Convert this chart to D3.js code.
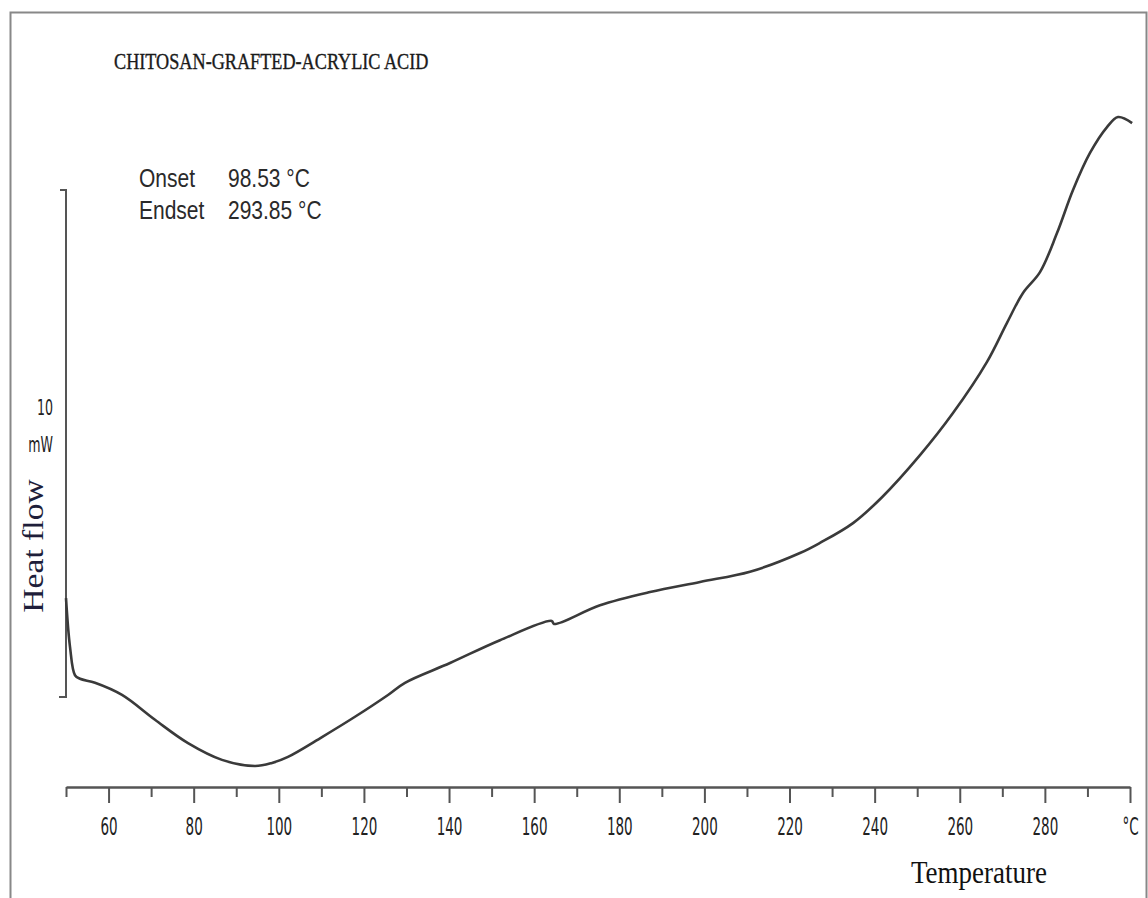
<!DOCTYPE html>
<html>
<head>
<meta charset="utf-8">
<script src="https://cdn.jsdelivr.net/npm/d3@7"></script>
<style>
  body { margin: 0; background: #fff; }
  svg { display: block; }
</style>
</head>
<body>
<script>
// DSC curve: temperature (°C) and heat flow (mW, arbitrary offset)
const temps = [50.0, 50.94, 52.11, 53.29, 56.81, 63.16, 70.91, 78.67, 86.65, 94.41,
  98.40, 102.16, 110.15, 117.90, 125.66, 129.65, 140.23, 151.97, 164.12, 164.66,
  175.47, 187.22, 198.97, 210.71, 222.46, 227.16, 234.92, 241.73, 250.66, 258.41,
  266.40, 271.10, 274.86, 278.85, 282.85, 286.61, 290.60, 294.60, 297.18, 300.5];
const heatFlow = [1.95, 0.99, 0.43, 0.36, 0.28, 0.04, -0.45, -0.91, -1.24, -1.36,
  -1.30, -1.18, -0.79, -0.39, 0.04, 0.28, 0.67, 1.12, 1.50, 1.44,
  1.81, 2.07, 2.27, 2.47, 2.84, 3.04, 3.43, 3.94, 4.77, 5.60,
  6.61, 7.38, 7.97, 8.38, 9.15, 10.00, 10.73, 11.24, 11.44, 11.32];

const majorTicks = [60, 80, 100, 120, 140, 160, 180, 200, 220, 240, 260, 280, 300];
const minorTicks = [50, 70, 90, 110, 130, 150, 170, 190, 210, 230, 250, 270, 290];
const scaleBar = [0, 10]; // 10 mW bar

const title = "CHITOSAN-GRAFTED-ACRYLIC ACID";
const notes = [["Onset", "98.53 \u00B0C"], ["Endset", "293.85 \u00B0C"]];

const W = 1148, H = 898;
const axisY = 787;
const narrow = "'Liberation Sans Narrow', 'DejaVu Sans Condensed', sans-serif";

const svg = d3.select("body").append("svg")
  .attr("width", W)
  .attr("height", H);

// outer frame
svg.append("rect")
  .attr("x", 10.5).attr("y", 12.5)
  .attr("width", 1136).attr("height", 890)
  .attr("fill", "none")
  .attr("stroke", "#888")
  .attr("stroke-width", 2);

const x = d3.scaleLinear().domain([50, 300]).range([66, 1130]);
const y = d3.scaleLinear().domain([0, 10]).range([697, 190]);

// x axis: major ticks with labels
const xAxis = d3.axisBottom(x)
  .tickValues(majorTicks)
  .tickSize(16)
  .tickSizeOuter(0)
  .tickFormat(d => d === 300 ? "\u00B0C" : d);

const gx = svg.append("g")
  .attr("transform", `translate(0,${axisY})`)
  .call(xAxis);

gx.select(".domain").attr("stroke", "#555").attr("stroke-width", 2.5);
gx.selectAll(".tick line").attr("stroke", "#555").attr("stroke-width", 2);
gx.selectAll(".tick text")
  .attr("y", 0).attr("dy", 0)
  .attr("transform", "translate(0,48) scale(1,1.6)")
  .attr("fill", "#222")
  .style("font-family", narrow)
  .style("font-size", "15px");

// minor ticks
const gm = svg.append("g")
  .attr("transform", `translate(0,${axisY})`)
  .call(d3.axisBottom(x).tickValues(minorTicks).tickSize(10).tickSizeOuter(0).tickFormat(""));
gm.select(".domain").remove();
gm.selectAll(".tick line").attr("stroke", "#555").attr("stroke-width", 2);

// vertical 10 mW scale bar
const bx = 66;
svg.append("path")
  .attr("d", `M${bx - 6},${y(scaleBar[1])} L${bx},${y(scaleBar[1])} L${bx},${y(scaleBar[0])} L${bx - 7},${y(scaleBar[0])}`)
  .attr("fill", "none")
  .attr("stroke", "#555")
  .attr("stroke-width", 2);

svg.append("text")
  .attr("transform", "translate(53,415) scale(1,1.5)")
  .attr("text-anchor", "end")
  .attr("fill", "#222")
  .style("font-family", narrow)
  .style("font-size", "14px")
  .text("10");

svg.append("text")
  .attr("transform", "translate(53,452) scale(1,1.5)")
  .attr("text-anchor", "end")
  .attr("fill", "#222")
  .style("font-family", narrow)
  .style("font-size", "14px")
  .text("mW");

// y label
svg.append("text")
  .attr("transform", "translate(43,546) rotate(-90) scale(1.12,1)")
  .attr("text-anchor", "middle")
  .attr("fill", "#1e1e3a")
  .style("font-family", "'Liberation Serif', serif")
  .style("font-size", "30px")
  .text("Heat flow");

// x label
svg.append("text")
  .attr("transform", "translate(911,883) scale(1,1.15)")
  .attr("fill", "#111")
  .style("font-family", "'Liberation Serif', serif")
  .style("font-size", "27px")
  .text("Temperature");

// title
svg.append("text")
  .attr("transform", "translate(114,69) scale(1,1.3)")
  .attr("fill", "#1a1a1a")
  .attr("stroke", "#1a1a1a")
  .attr("stroke-width", 0.3)
  .style("font-family", "'Liberation Serif', serif")
  .style("font-size", "18.2px")
  .text(title);

// onset / endset notes
const ng = svg.append("g").attr("class", "notes");
notes.forEach((n, i) => {
  const yy = 187 + i * 32;
  ng.append("text")
    .attr("transform", `translate(139,${yy}) scale(1,1.25)`)
    .attr("fill", "#2a2a2a")
    .style("font-family", "'Liberation Sans', sans-serif")
    .style("font-size", "21px")
    .text(n[0]);
  ng.append("text")
    .attr("transform", `translate(228,${yy}) scale(1,1.25)`)
    .attr("fill", "#2a2a2a")
    .style("font-family", "'Liberation Sans', sans-serif")
    .style("font-size", "21px")
    .text(n[1]);
});

// curve
const line = d3.line()
  .x((d, i) => x(temps[i]))
  .y(d => y(d))
  .curve(d3.curveCatmullRom.alpha(0.5));

svg.append("path")
  .datum(heatFlow)
  .attr("d", line)
  .attr("fill", "none")
  .attr("stroke", "#3a3a3a")
  .attr("stroke-width", 2.6);
</script>
</body>
</html>
